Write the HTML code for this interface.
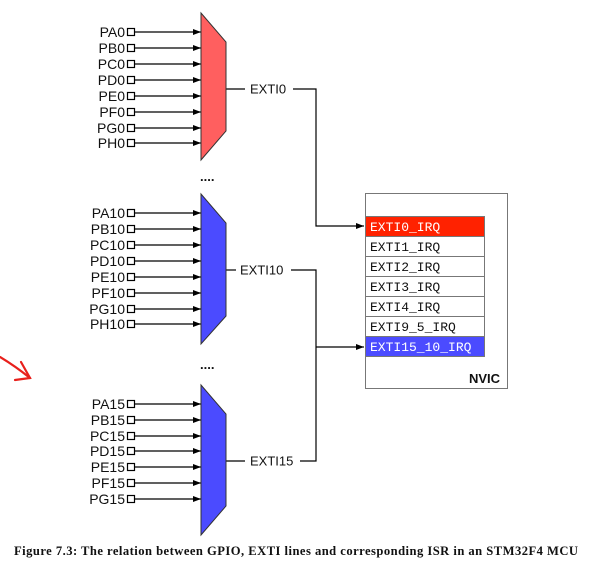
<!DOCTYPE html>
<html><head><meta charset="utf-8"><style>
html,body{margin:0;padding:0;background:#fff;}
svg{display:block}
.l{font-family:"Liberation Sans",Arial,sans-serif;font-size:13px;fill:#111}
.p{font-size:14px}
.m{font-family:"Liberation Mono",monospace;font-size:13px}
</style></head><body>
<svg width="591" height="572" viewBox="0 0 591 572" xmlns="http://www.w3.org/2000/svg">
<defs>
<marker id="a" markerWidth="8" markerHeight="6" refX="8" refY="3" orient="auto" markerUnits="userSpaceOnUse"><path d="M0,0 L8,3 L0,6 z" fill="#000"/></marker>
</defs>
<g stroke="#000" stroke-width="1.2" fill="none">
<rect x="127.5" y="28.5" width="7" height="7" fill="#fff"/><line x1="134.5" y1="32" x2="201" y2="32" marker-end="url(#a)"/>
<rect x="127.5" y="44.5" width="7" height="7" fill="#fff"/><line x1="134.5" y1="48" x2="201" y2="48" marker-end="url(#a)"/>
<rect x="127.5" y="60.5" width="7" height="7" fill="#fff"/><line x1="134.5" y1="64" x2="201" y2="64" marker-end="url(#a)"/>
<rect x="127.5" y="76.5" width="7" height="7" fill="#fff"/><line x1="134.5" y1="80" x2="201" y2="80" marker-end="url(#a)"/>
<rect x="127.5" y="92.5" width="7" height="7" fill="#fff"/><line x1="134.5" y1="96" x2="201" y2="96" marker-end="url(#a)"/>
<rect x="127.5" y="108.5" width="7" height="7" fill="#fff"/><line x1="134.5" y1="112" x2="201" y2="112" marker-end="url(#a)"/>
<rect x="127.5" y="124.5" width="7" height="7" fill="#fff"/><line x1="134.5" y1="128" x2="201" y2="128" marker-end="url(#a)"/>
<rect x="127.5" y="139.5" width="7" height="7" fill="#fff"/><line x1="134.5" y1="143" x2="201" y2="143" marker-end="url(#a)"/>
<rect x="127.5" y="209.5" width="7" height="7" fill="#fff"/><line x1="134.5" y1="213" x2="201" y2="213" marker-end="url(#a)"/>
<rect x="127.5" y="225.5" width="7" height="7" fill="#fff"/><line x1="134.5" y1="229" x2="201" y2="229" marker-end="url(#a)"/>
<rect x="127.5" y="241.5" width="7" height="7" fill="#fff"/><line x1="134.5" y1="245" x2="201" y2="245" marker-end="url(#a)"/>
<rect x="127.5" y="257.5" width="7" height="7" fill="#fff"/><line x1="134.5" y1="261" x2="201" y2="261" marker-end="url(#a)"/>
<rect x="127.5" y="273.5" width="7" height="7" fill="#fff"/><line x1="134.5" y1="277" x2="201" y2="277" marker-end="url(#a)"/>
<rect x="127.5" y="289.5" width="7" height="7" fill="#fff"/><line x1="134.5" y1="293" x2="201" y2="293" marker-end="url(#a)"/>
<rect x="127.5" y="305.5" width="7" height="7" fill="#fff"/><line x1="134.5" y1="309" x2="201" y2="309" marker-end="url(#a)"/>
<rect x="127.5" y="320.5" width="7" height="7" fill="#fff"/><line x1="134.5" y1="324" x2="201" y2="324" marker-end="url(#a)"/>
<rect x="127.5" y="400.5" width="7" height="7" fill="#fff"/><line x1="134.5" y1="404" x2="201" y2="404" marker-end="url(#a)"/>
<rect x="127.5" y="416.5" width="7" height="7" fill="#fff"/><line x1="134.5" y1="420" x2="201" y2="420" marker-end="url(#a)"/>
<rect x="127.5" y="432.5" width="7" height="7" fill="#fff"/><line x1="134.5" y1="436" x2="201" y2="436" marker-end="url(#a)"/>
<rect x="127.5" y="447.5" width="7" height="7" fill="#fff"/><line x1="134.5" y1="451" x2="201" y2="451" marker-end="url(#a)"/>
<rect x="127.5" y="463.5" width="7" height="7" fill="#fff"/><line x1="134.5" y1="467" x2="201" y2="467" marker-end="url(#a)"/>
<rect x="127.5" y="479.5" width="7" height="7" fill="#fff"/><line x1="134.5" y1="483" x2="201" y2="483" marker-end="url(#a)"/>
<rect x="127.5" y="495.5" width="7" height="7" fill="#fff"/><line x1="134.5" y1="499" x2="201" y2="499" marker-end="url(#a)"/>
<line x1="226" y1="89" x2="245" y2="89"/>
<polyline points="293,89 316,89 316,226 364,226" marker-end="url(#a)"/>
<line x1="226" y1="270" x2="236" y2="270"/>
<line x1="226" y1="461" x2="245" y2="461"/>
<polyline points="291,270 316,270 316,461 300,461"/>
<line x1="316" y1="347" x2="364" y2="347" marker-end="url(#a)"/>
</g>
<polygon points="201,13 226,42 226,131 201,160" fill="#ff5f5f" stroke="#333" stroke-width="1"/>
<polygon points="201,194 226,223 226,316 201,344" fill="#4b4bff" stroke="#333" stroke-width="1"/>
<polygon points="201,385 226,414 226,506 201,535" fill="#4b4bff" stroke="#333" stroke-width="1"/>
<g class="l p" text-anchor="end">
<text x="125" y="37">PA0</text><text x="125" y="53">PB0</text><text x="125" y="69">PC0</text><text x="125" y="85">PD0</text><text x="125" y="101">PE0</text><text x="125" y="117">PF0</text><text x="125" y="133">PG0</text><text x="125" y="148">PH0</text>
<text x="125" y="218">PA10</text><text x="125" y="234">PB10</text><text x="125" y="250">PC10</text><text x="125" y="266">PD10</text><text x="125" y="282">PE10</text><text x="125" y="298">PF10</text><text x="125" y="314">PG10</text><text x="125" y="329">PH10</text>
<text x="125" y="409">PA15</text><text x="125" y="425">PB15</text><text x="125" y="441">PC15</text><text x="125" y="456">PD15</text><text x="125" y="472">PE15</text><text x="125" y="488">PF15</text><text x="125" y="504">PG15</text>
</g>
<g class="l">
<text x="250" y="93.5">EXTI0</text>
<text x="240" y="274.5">EXTI10</text>
<text x="250" y="465.5">EXTI15</text>
<text x="200" y="181" font-weight="bold">....</text>
<text x="200" y="369" font-weight="bold">....</text>
<text x="469" y="383" font-weight="bold">NVIC</text>
</g>
<rect x="365.5" y="193.5" width="142" height="195" fill="none" stroke="#777" stroke-width="1"/>
<g stroke="#777" stroke-width="1">
<rect x="365.5" y="216.5" width="119" height="20" fill="#ff2200"/>
<rect x="365.5" y="236.5" width="119" height="20" fill="#fff"/>
<rect x="365.5" y="256.5" width="119" height="20" fill="#fff"/>
<rect x="365.5" y="276.5" width="119" height="20" fill="#fff"/>
<rect x="365.5" y="296.5" width="119" height="20" fill="#fff"/>
<rect x="365.5" y="316.5" width="119" height="20" fill="#fff"/>
<rect x="365.5" y="336.5" width="119" height="20" fill="#4b4bff"/>
</g>
<g class="m">
<text x="370" y="231" fill="#fff">EXTI0_IRQ</text>
<text x="370" y="251" fill="#111">EXTI1_IRQ</text>
<text x="370" y="271" fill="#111">EXTI2_IRQ</text>
<text x="370" y="291" fill="#111">EXTI3_IRQ</text>
<text x="370" y="311" fill="#111">EXTI4_IRQ</text>
<text x="370" y="331" fill="#111">EXTI9_5_IRQ</text>
<text x="370" y="351" fill="#fff">EXTI15_10_IRQ</text>
</g>
<g stroke="#e8201c" stroke-width="2.2" fill="none" stroke-linecap="round">
<path d="M0,357 Q15,366 30,378"/>
<path d="M21,362 L30,378 L15,380"/>
</g>
<text x="296" y="555" text-anchor="middle" font-family="Liberation Serif,serif" font-weight="bold" font-size="12.6px" fill="#111" textLength="564">Figure 7.3: The relation between GPIO, EXTI lines and corresponding ISR in an STM32F4 MCU</text>
</svg>
</body></html>
